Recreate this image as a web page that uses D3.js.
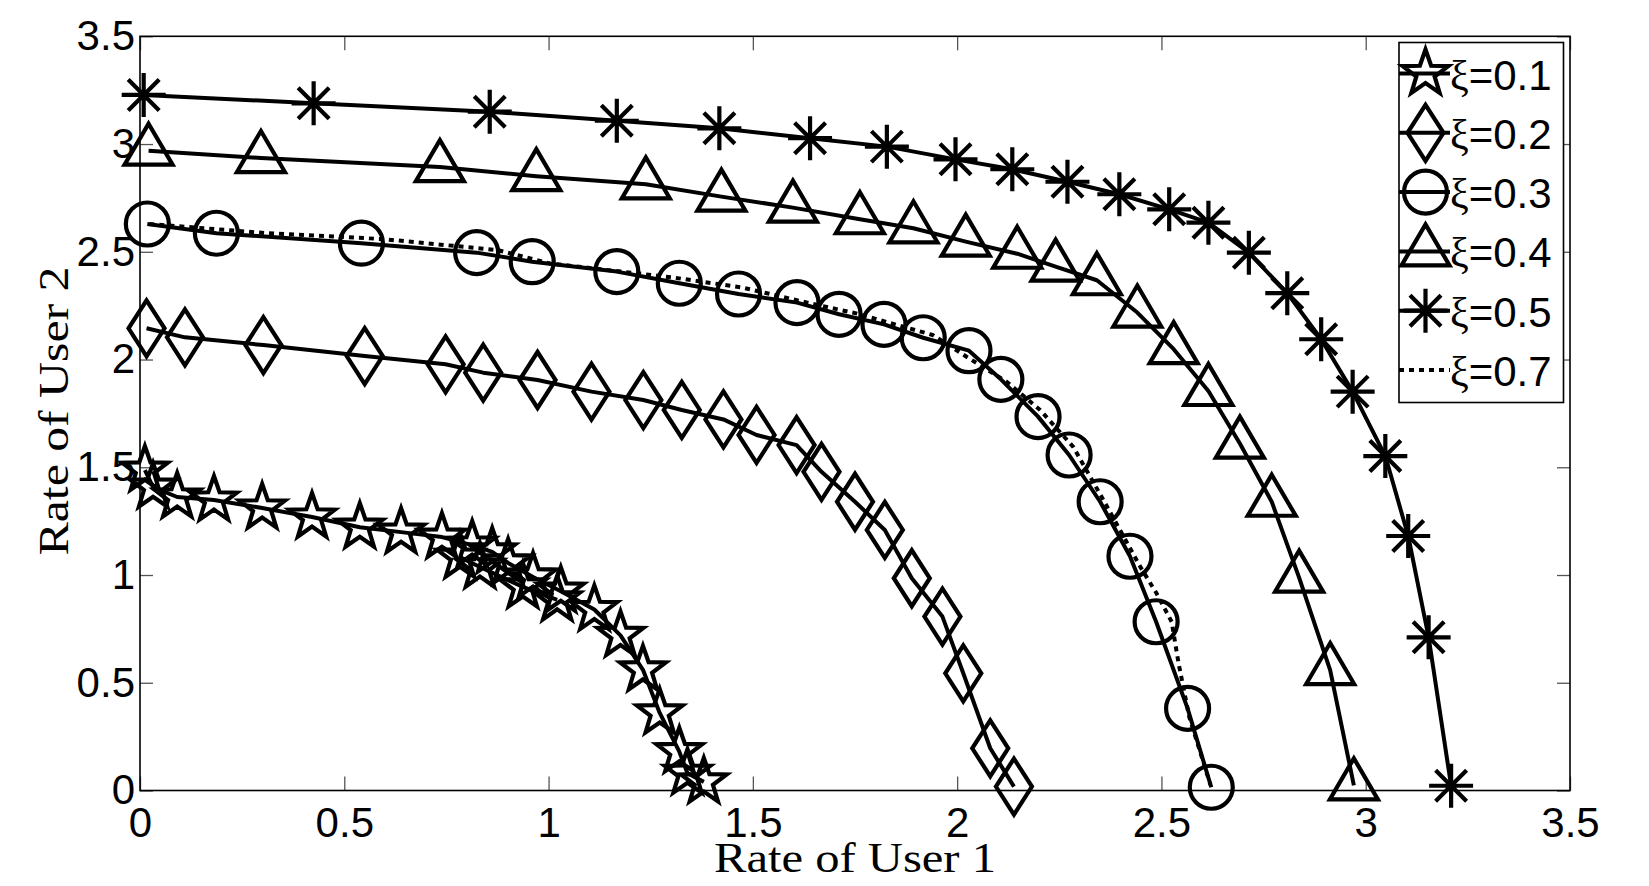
<!DOCTYPE html>
<head>
    <meta charset="utf-8">
    <title>Rate region</title>
    <style>
        body { margin: 0; background: #fff; }
        text.tick_label { font-family: "Liberation Sans", Arial, sans-serif; font-size: 42px; fill: #000; }
        text.axis_title { font-family: "Liberation Serif", "Times New Roman", serif; font-size: 42px; fill: #000; }
        text.legend_label { font-family: "Liberation Sans", Arial, sans-serif; font-size: 42px; fill: #000; }
    </style>
    <script type="text/javascript" src="https://cdn.jsdelivr.net/npm/d3@7/dist/d3.min.js"></script>
</head>
<body>
    <script>
        // values: [rate of user 1, rate of user 2]
        var xi01 = [[0.012,1.487],[0.032,1.408],[0.091,1.362],[0.181,1.348],[0.299,1.311],[0.421,1.269],
            [0.538,1.222],[0.639,1.199],[0.739,1.176],[0.813,1.139],[0.862,1.107],[0.901,1.056],[0.962,0.991],
            [1.030,0.925],[1.112,0.840],[1.176,0.720],[1.231,0.560],[1.272,0.360],[1.320,0.180],[1.340,0.080],[1.380,0.040]];
        var xi01b = [[0.783,1.083],[0.832,1.037],[0.937,0.945],[1.021,0.885]];
        var xi02 = [[0.016,2.145],[0.110,2.103],[0.302,2.067],[0.550,2.016],[0.748,1.978],[0.840,1.939],[0.973,1.905],
            [1.105,1.851],[1.232,1.812],[1.326,1.766],[1.428,1.722],[1.509,1.650],[1.607,1.603],[1.668,1.479],
            [1.750,1.340],[1.823,1.209],[1.889,0.985],[1.964,0.807],[2.015,0.544],[2.081,0.196],[2.139,0.018]];
        var xi03 = [[0.018,2.629],[0.187,2.586],[0.542,2.540],[0.824,2.496],[0.960,2.454],[1.167,2.408],[1.320,2.354],
            [1.465,2.304],[1.608,2.264],[1.711,2.210],[1.821,2.163],[1.917,2.101],[2.029,2.041],[2.107,1.908],
            [2.198,1.735],[2.274,1.557],[2.350,1.340],[2.423,1.087],[2.487,0.783],[2.564,0.381],[2.622,0.015]];
        var xi04 = [[0.021,2.969],[0.296,2.935],[0.734,2.893],[0.970,2.851],[1.238,2.813],[1.423,2.756],[1.598,2.705],
            [1.762,2.651],[1.893,2.609],[2.021,2.547],[2.147,2.491],[2.241,2.431],[2.342,2.368],[2.441,2.218],
            [2.530,2.048],[2.615,1.854],[2.692,1.610],[2.770,1.340],[2.837,0.988],[2.913,0.559],[2.971,0.024]];
        var xi05 = [[0.009,3.228],[0.425,3.189],[0.856,3.150],[1.167,3.108],[1.418,3.073],[1.640,3.027],[1.828,2.988],
            [1.996,2.929],[2.135,2.883],[2.270,2.825],[2.397,2.767],[2.519,2.697],[2.615,2.635],[2.714,2.496],
            [2.808,2.308],[2.891,2.094],[2.968,1.851],[3.048,1.552],[3.104,1.181],[3.154,0.711],[3.209,0.022]];
        var xi07 = [[0.023,2.629],[0.313,2.586],[0.594,2.559],[0.875,2.508],[1.003,2.446],[1.303,2.381],[1.472,2.335],
            [1.659,2.253],[1.753,2.214],[1.940,2.114],[2.023,2.013],[2.121,1.897],[2.203,1.766],[2.284,1.595],
            [2.358,1.348],[2.448,1.039],[2.488,0.915],[2.525,0.783],[2.542,0.590],[2.568,0.342],[2.620,0.026]];

        var legendLabels = ["=0.1", "=0.2", "=0.3", "=0.4", "=0.5", "=0.7"];
        var xTicks = [0, 0.5, 1, 1.5, 2, 2.5, 3, 3.5];
        var yTicks = [0, 0.5, 1, 1.5, 2, 2.5, 3, 3.5];

        var margin = { top: 36.3, right: 79, bottom: 95.5, left: 140 },
            width = 1649 - margin.left - margin.right,
            height = 886 - margin.top - margin.bottom;

        var x = d3.scaleLinear().domain([0, 3.5]).range([0, width]);
        var y = d3.scaleLinear().domain([0, 3.5]).range([height, 0]);

        var svg = d3.select("body")
            .append("svg")
            .attr("width", 1649)
            .attr("height", 886);

        var plot = svg.append("g")
            .attr("transform", "translate(" + margin.left + "," + margin.top + ")");

        // marker shapes
        function starPath(R) {
            var r = R * 0.4, p = [];
            for (var i = 0; i < 10; i++) {
                var a = -Math.PI / 2 + i * Math.PI / 5, rr = i % 2 ? r : R;
                p.push([rr * Math.cos(a), rr * Math.sin(a)]);
            }
            return "M" + p.join("L") + "Z";
        }
        var shapes = {
            star: starPath(24),
            diamond: "M0,-28L18,0L0,28L-18,0Z",
            circle: "M21.5,0A21.5,21.5 0 1,1 -21.5,0A21.5,21.5 0 1,1 21.5,0Z",
            triangle: "M0,-27L24,14L-24,14Z",
            asterisk: "M0,-22V22M-22,0H22M-15.5,-15.5L15.5,15.5M-15.5,15.5L15.5,-15.5",
            none: ""
        };

        var series = [
            { data: xi01, shape: "star", dash: null },
            { data: xi01b, shape: "star", dash: null, noLegend: true },
            { data: xi02, shape: "diamond", dash: null },
            { data: xi03, shape: "circle", dash: null },
            { data: xi04, shape: "triangle", dash: null },
            { data: xi05, shape: "asterisk", dash: null },
            { data: xi07, shape: "none", dash: "5,5" }
        ];

        // ticks, inward on all four sides
        plot.append("g")
            .attr("transform", "translate(0," + height + ")")
            .call(d3.axisBottom(x).tickValues(xTicks).tickSizeInner(-14).tickSizeOuter(0).tickPadding(17).tickFormat(d3.format("")))
            .call(styleAxis);
        plot.append("g")
            .call(d3.axisLeft(y).tickValues(yTicks).tickSizeInner(-13).tickSizeOuter(0).tickPadding(5).tickFormat(d3.format("")))
            .call(styleAxis);
        plot.append("g")
            .call(d3.axisTop(x).tickValues(xTicks).tickSizeInner(-14).tickSizeOuter(0).tickFormat(""))
            .call(styleAxis);
        plot.append("g")
            .attr("transform", "translate(" + width + ",0)")
            .call(d3.axisRight(y).tickValues(yTicks).tickSizeInner(-13).tickSizeOuter(0).tickFormat(""))
            .call(styleAxis);

        function styleAxis(g) {
            g.select(".domain").remove();
            g.selectAll(".tick line").attr("stroke", "#555").attr("stroke-width", 1.3);
            g.selectAll(".tick text").attr("class", "tick_label").attr("fill", "#000");
            g.attr("font-size", null).attr("font-family", null);
        }

        plot.append("rect")
            .attr("width", width)
            .attr("height", height)
            .attr("fill", "none")
            .attr("stroke", "#000")
            .attr("stroke-width", 1.6);

        var line = d3.line().x(d => x(d[0])).y(d => y(d[1]));

        series.forEach(function (s) {
            plot.append("path")
                .datum(s.data)
                .attr("d", line)
                .attr("fill", "none")
                .attr("stroke", "#000")
                .attr("stroke-width", 4)
                .attr("stroke-linejoin", "round")
                .attr("stroke-dasharray", s.dash);
        });
        series.forEach(function (s) {
            if (s.shape === "none") return;
            plot.append("g").selectAll("path")
                .data(s.data)
                .enter()
                .append("path")
                .attr("transform", d => "translate(" + x(d[0]) + "," + y(d[1]) + ")")
                .attr("d", shapes[s.shape])
                .attr("fill", "none")
                .attr("stroke", "#000")
                .attr("stroke-width", 4.2)
                .attr("stroke-linejoin", "miter");
        });

        // axis titles
        svg.append("text")
            .attr("class", "axis_title")
            .attr("x", margin.left + width / 2)
            .attr("y", 872)
            .attr("text-anchor", "middle")
            .attr("textLength", 282)
            .attr("lengthAdjust", "spacingAndGlyphs")
            .text("Rate of User 1");

        svg.append("text")
            .attr("class", "axis_title")
            .attr("transform", "translate(68," + 411 + ") rotate(-90)")
            .attr("text-anchor", "middle")
            .attr("textLength", 289)
            .attr("lengthAdjust", "spacingAndGlyphs")
            .text("Rate of User 2");

        // legend
        var legendSeries = series.filter(s => !s.noLegend);
        var legend = svg.append("g").attr("transform", "translate(1399,42.5)");
        legend.append("rect")
            .attr("width", 164.5)
            .attr("height", 360)
            .attr("fill", "#fff")
            .attr("stroke", "#000")
            .attr("stroke-width", 1.6);

        var rows = legend.selectAll("g.row")
            .data(legendSeries)
            .enter()
            .append("g")
            .attr("class", "row")
            .attr("transform", (d, i) => "translate(0," + (31 + i * 59.3) + ")");

        rows.append("line")
            .attr("x1", 0).attr("x2", 51)
            .attr("stroke", "#000")
            .attr("stroke-width", 4)
            .attr("stroke-dasharray", d => d.dash);
        rows.append("path")
            .attr("transform", "translate(26.5,0)")
            .attr("d", d => shapes[d.shape])
            .attr("fill", "none")
            .attr("stroke", "#000")
            .attr("stroke-width", 4.2);
        var labels = rows.append("text")
            .attr("class", "legend_label")
            .attr("x", 51)
            .attr("y", 16);
        labels.append("tspan")
            .style("font-family", "'Liberation Serif', serif")
            .text("ξ");
        labels.append("tspan")
            .text((d, i) => legendLabels[i]);
    </script>
</body>
